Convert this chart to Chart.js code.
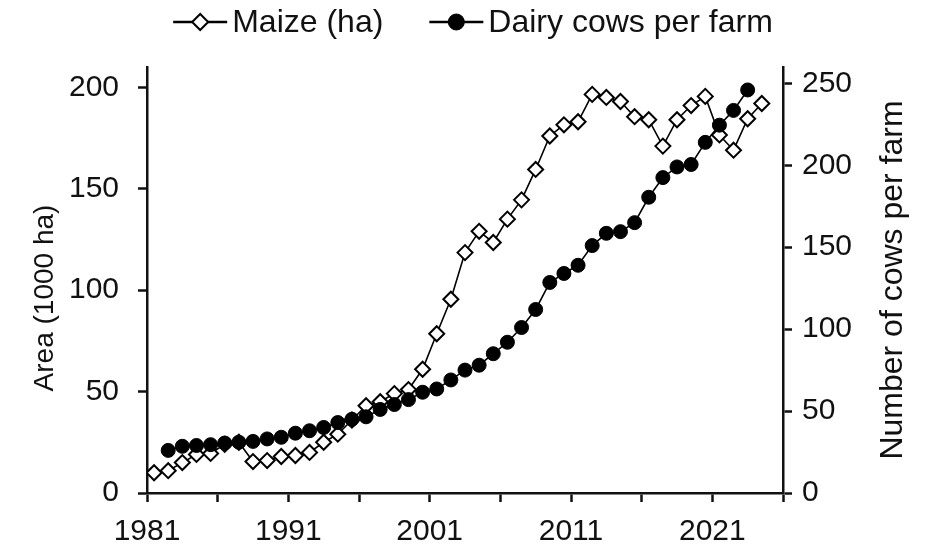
<!DOCTYPE html>
<html>
<head>
<meta charset="utf-8">
<script src="https://cdn.jsdelivr.net/npm/chart.js@4.4.1/dist/chart.umd.min.js"></script>
<style>
  html, body { margin: 0; padding: 0; background: #fff; }
  #wrap { width: 932px; height: 549px; }
</style>
</head>
<body>
<div id="wrap"><canvas id="maizeChart"></canvas></div>
<script>
// annual data, 1981 - 2024
const years = [
  1981, 1982, 1983, 1984, 1985, 1986, 1987, 1988, 1989, 1990,
  1991, 1992, 1993, 1994, 1995, 1996, 1997, 1998, 1999, 2000,
  2001, 2002, 2003, 2004, 2005, 2006, 2007, 2008, 2009, 2010,
  2011, 2012, 2013, 2014, 2015, 2016, 2017, 2018, 2019, 2020,
  2021, 2022, 2023, 2024
];
// maize area, 1000 ha (left axis)
const maizeArea = [
  10, 11, 15, 19, 19.5, 24, 25, 15.5, 16, 18,
  18.5, 20, 25, 29, 36, 43, 45, 49, 51, 61,
  78.5, 95.5, 118.5, 129, 123.5, 135, 144.5, 159.5, 176, 181.5,
  183, 196.5, 195, 193, 185.5, 184, 171, 184, 191, 195.5,
  176.5, 169, 184.5, 192
];
// dairy cows per farm (right axis)
const cowsPerFarm = [
  null, 26, 28.5, 29, 29.5, 30.5, 31, 31.5, 33, 34,
  36.5, 38, 40, 43, 45, 46.5, 51, 54, 57, 61.5,
  63.5, 69, 75, 78, 85, 92, 101, 112, 128.5, 134,
  139, 151, 158.5, 159.5, 165, 180.5, 192.5, 199, 200.5, 214,
  224.5, 233.5, 246, null
];
const xTickLabels = ['1981', '1991', '2001', '2011', '2021'];
const leftTitle = 'Area (1000 ha)';
const rightTitleText = 'Number of cows per farm';

const FONT = "'Liberation Sans', Arial, sans-serif";
Chart.defaults.font.family = FONT;
Chart.defaults.font.size = 30;
Chart.defaults.color = '#111';

// yearly values sit in the middle of their year
const toPoints = vals => years.map((yr, i) => ({ x: yr + 0.5, y: vals[i] }));

// legend: short line with the marker on it, then the label
const lineLegend = {
  id: 'lineLegend',
  afterDraw(chart) {
    const ctx = chart.ctx;
    const sets = chart.data.datasets;
    const lineLen = 54, gap = 5, itemGap = 46, y = 22;
    ctx.save();
    ctx.font = '32px ' + FONT;
    const widths = sets.map(d => lineLen + gap + ctx.measureText(d.label).width);
    const total = widths.reduce((a, b) => a + b, 0) + itemGap * (sets.length - 1);
    let x = 473 - total / 2;
    sets.forEach((d, i) => {
      ctx.strokeStyle = '#000';
      ctx.lineWidth = 2.5;
      ctx.beginPath();
      ctx.moveTo(x, y);
      ctx.lineTo(x + lineLen, y);
      ctx.stroke();
      ctx.fillStyle = d.pointBackgroundColor;
      ctx.strokeStyle = d.pointBorderColor;
      ctx.lineWidth = d.pointBorderWidth;
      Chart.helpers.drawPoint(ctx, {
        pointStyle: d.pointStyle, radius: 8, rotation: 0, borderWidth: d.pointBorderWidth
      }, x + lineLen / 2, y);
      ctx.fillStyle = '#111';
      ctx.textAlign = 'left';
      ctx.textBaseline = 'middle';
      ctx.fillText(d.label, x + lineLen + gap, y + 1);
      x += widths[i] + itemGap;
    });
    ctx.restore();
  }
};

// both axis titles read bottom to top
const axisTitles = {
  id: 'axisTitles',
  afterDraw(chart) {
    const { ctx, chartArea } = chart;
    const mid = (chartArea.top + chartArea.bottom) / 2;
    const draw = (text, x, y, size) => {
      ctx.save();
      ctx.translate(x, y);
      ctx.rotate(-Math.PI / 2);
      ctx.font = size + 'px ' + FONT;
      ctx.fillStyle = '#111';
      ctx.textAlign = 'center';
      ctx.textBaseline = 'middle';
      ctx.fillText(text, 0, 0);
      ctx.restore();
    };
    draw(leftTitle, 45, mid + 18, 28);
    draw(rightTitleText, 893, mid, 32);
  }
};

const axisGrid = { drawOnChartArea: false, drawTicks: true, tickLength: 9, tickWidth: 2.5, tickColor: '#111' };
const axisBorder = { display: true, color: '#111', width: 2.5 };
const onlyFifties = s => { s.ticks = s.ticks.filter(t => t.value % 50 === 0); };

new Chart(document.getElementById('maizeChart'), {
  type: 'line',
  data: {
    datasets: [
      {
        label: 'Maize (ha)',
        data: toPoints(maizeArea),
        yAxisID: 'yArea',
        order: 2,
        borderColor: '#000',
        borderWidth: 1.6,
        pointStyle: 'rectRot',
        pointRadius: 7.5,
        pointHoverRadius: 7.5,
        pointBackgroundColor: '#fff',
        pointBorderColor: '#000',
        pointBorderWidth: 2
      },
      {
        label: 'Dairy cows per farm',
        data: toPoints(cowsPerFarm),
        yAxisID: 'yCows',
        order: 1,
        borderColor: '#000',
        borderWidth: 1.6,
        pointStyle: 'circle',
        pointRadius: 7,
        pointHoverRadius: 7,
        pointBackgroundColor: '#000',
        pointBorderColor: '#000',
        pointBorderWidth: 1
      }
    ]
  },
  options: {
    responsive: true,
    maintainAspectRatio: false,
    animation: false,
    layout: { padding: { top: 67, left: 0, right: 0, bottom: 0 } },
    plugins: {
      legend: { display: false },
      tooltip: { enabled: false }
    },
    scales: {
      x: {
        type: 'linear',
        position: 'bottom',
        min: 1981,
        max: 2026,
        grid: axisGrid,
        border: axisBorder,
        ticks: {
          stepSize: 5,
          autoSkip: false,
          maxRotation: 0,
          padding: 12,
          callback: v => xTickLabels.includes(String(v)) ? String(v) : ''
        },
        afterFit: s => { s.height = 56; }
      },
      yArea: {
        type: 'linear',
        position: 'left',
        min: 0,
        max: 210,
        bounds: 'data',
        grid: axisGrid,
        border: axisBorder,
        ticks: { stepSize: 50, padding: 19 },
        afterBuildTicks: onlyFifties,
        afterFit: s => { s.width = 147; }
      },
      yCows: {
        type: 'linear',
        position: 'right',
        min: 0,
        max: 260,
        bounds: 'data',
        grid: axisGrid,
        border: axisBorder,
        ticks: { stepSize: 50, padding: 10 },
        afterBuildTicks: onlyFifties,
        afterFit: s => { s.width = 149; }
      }
    }
  },
  plugins: [lineLegend, axisTitles]
});
</script>
</body>
</html>
